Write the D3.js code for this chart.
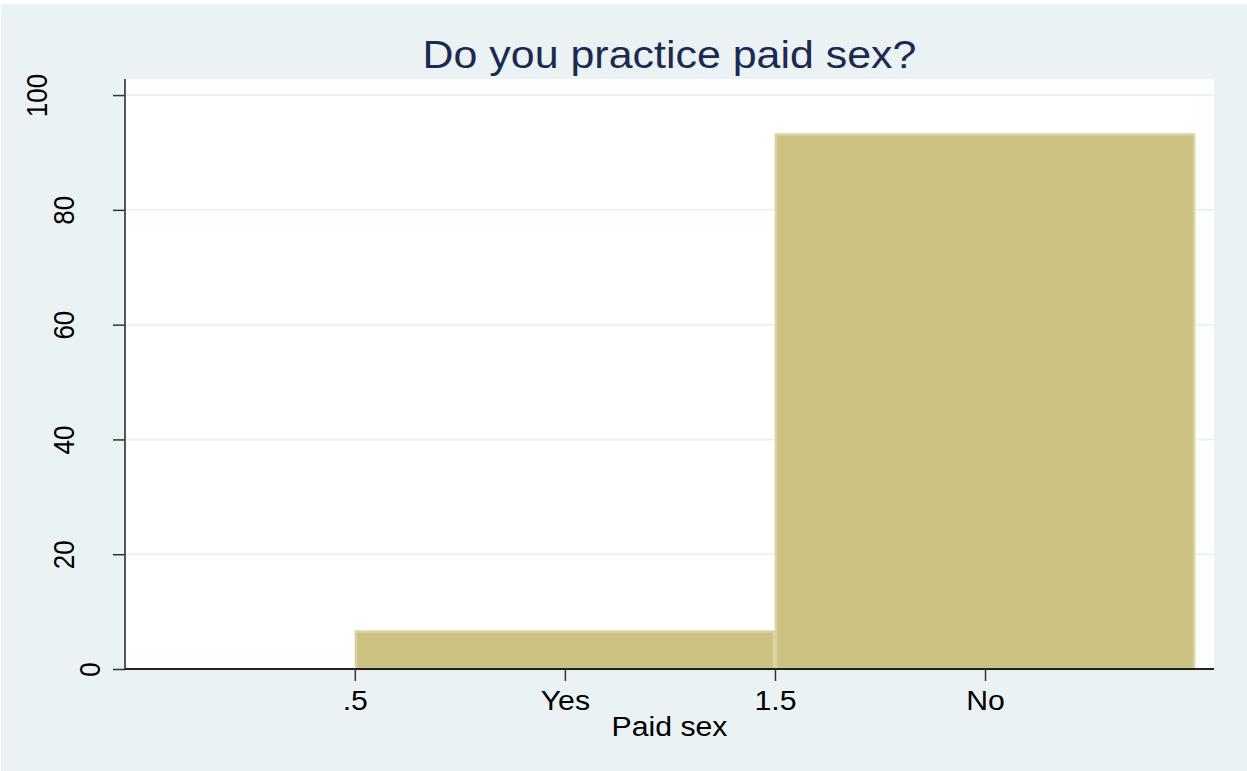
<!DOCTYPE html>
<html>
<head>
<meta charset="utf-8">
<script src="https://cdn.jsdelivr.net/npm/d3@7"></script>
<style>
  html, body { margin: 0; padding: 0; background: #ffffff; }
  svg { display: block; }
  text { font-family: "Liberation Sans", Arial, sans-serif; }
</style>
</head>
<body>
<svg id="chart" width="1247" height="771"></svg>
<script>
// ---- data ----
const titleText = "Do you practice paid sex?";
const xAxisTitle = "Paid sex";
const binEdges = [0.5, 1.5, 2.5];
const percents = [6.7, 93.3];
const xTickValues = [0.5, 1, 1.5, 2];
const xTickLabels = [".5", "Yes", "1.5", "No"];
const yTickValues = [0, 20, 40, 60, 80, 100];

// ---- layout ----
const W = 1247, H = 771;
const plot = { left: 125, right: 1214, top: 79, bottom: 669 };
const stretch = 1.12;

const svg = d3.select("#chart");

svg.append("rect").attr("x", 1).attr("y", 4).attr("width", W - 1).attr("height", H - 4)
  .attr("fill", "#eaf2f3");

svg.append("rect")
  .attr("x", plot.left).attr("y", plot.top)
  .attr("width", plot.right - plot.left).attr("height", plot.bottom - plot.top)
  .attr("fill", "#ffffff");

const x = d3.scaleLinear().domain([-0.047, 2.545]).range([plot.left, plot.right]);
const y = d3.scaleLinear().domain([0, 102.8]).range([plot.bottom, plot.top]);

// gridlines
svg.append("g").selectAll("line")
  .data(yTickValues.filter(d => d > 0))
  .join("line")
  .attr("x1", plot.left).attr("x2", plot.right)
  .attr("y1", d => y(d)).attr("y2", d => y(d))
  .attr("stroke", "#eaf2f3").attr("stroke-width", 2);

// bars
const bins = percents.map((p, i) => ({ x0: binEdges[i], x1: binEdges[i + 1], v: p }));
svg.append("g").selectAll("rect")
  .data(bins)
  .join("rect")
  .attr("x", d => x(d.x0) + 1)
  .attr("y", d => y(d.v) + 1)
  .attr("width", d => x(d.x1) - x(d.x0) - 2)
  .attr("height", d => y(0) - y(d.v) - 1)
  .attr("fill", "#cbc282")
  .attr("stroke", "#d9d4a1")
  .attr("stroke-width", 2.5);

// x axis
const xAxis = d3.axisBottom(x).tickValues(xTickValues).tickSize(12)
  .tickFormat((d, i) => xTickLabels[i]);
const gx = svg.append("g").attr("transform", `translate(0,${plot.bottom})`).call(xAxis);
gx.select(".domain").attr("d", `M${plot.left},0H${plot.right}`).attr("stroke", "#222").attr("stroke-width", 2);
gx.selectAll(".tick line").attr("stroke", "#333").attr("stroke-width", 1.5);
gx.selectAll(".tick text")
  .attr("y", 0).attr("dy", 0)
  .attr("fill", "#000")
  .attr("font-size", 27)
  .attr("transform", "translate(0,41) scale(" + stretch + ",1)");

// y axis
const yAxis = d3.axisLeft(y).tickValues(yTickValues).tickSize(12).tickFormat(d3.format("d"));
const gy = svg.append("g").attr("transform", `translate(${plot.left},0)`).call(yAxis);
gy.select(".domain").attr("d", `M0,${plot.top}V${plot.bottom}`).attr("stroke", "#222").attr("stroke-width", 1.5);
gy.selectAll(".tick line").attr("stroke", "#333").attr("stroke-width", 1.5);
gy.selectAll(".tick text")
  .attr("x", 0).attr("dy", 0)
  .attr("fill", "#000")
  .attr("font-size", 26)
  .attr("text-anchor", "middle")
  .attr("transform", function (d) {
    const s = String(d);
    const bx = 100 - (s.length - 1) * 26.5 - plot.left;
    return `translate(${bx},0) rotate(-90) scale(1,${stretch})`;
  });

// x axis title
svg.append("text")
  .attr("text-anchor", "middle")
  .attr("font-size", 27)
  .attr("fill", "#000")
  .attr("transform", `translate(${(plot.left + plot.right) / 2},736) scale(${stretch},1)`)
  .text(xAxisTitle);

// title
svg.append("text")
  .attr("text-anchor", "middle")
  .attr("font-size", 38)
  .attr("fill", "#1c2a52")
  .attr("transform", `translate(${(plot.left + plot.right) / 2},68) scale(1.13,1)`)
  .text(titleText);
</script>
</body>
</html>
